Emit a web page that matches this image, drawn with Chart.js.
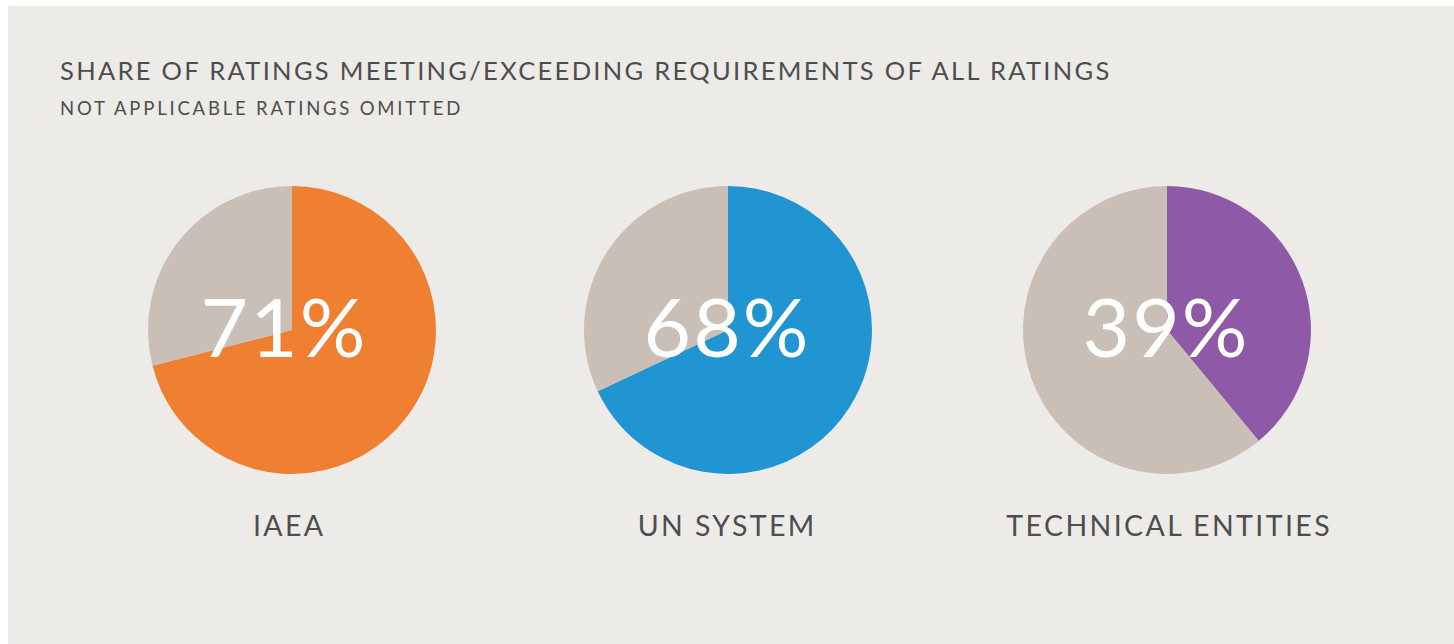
<!DOCTYPE html>
<html lang="en">
<head>
    <meta charset="UTF-8">
    <title>Share of ratings</title>
    <script src="https://cdn.jsdelivr.net/npm/chart.js"></script>
    <style>
        body { margin: 0; background: #ffffff; font-family: Lato, sans-serif; color: #4d4d4f; }
        .panel { position: absolute; left: 8px; top: 6px; width: 1446px; height: 638px; background: #edebe7; }
        .title { position: absolute; left: 60px; top: 58px; font-size: 25.5px; line-height: 25px; letter-spacing: 2.3px; white-space: nowrap; }
        .subtitle { position: absolute; left: 60px; top: 99px; font-size: 18.5px; line-height: 18px; letter-spacing: 2.8px; white-space: nowrap; }
        .pie { position: absolute; width: 420px; height: 300px; }
        .label { position: absolute; width: 420px; text-align: center; top: 511px; font-size: 28.5px; line-height: 28px; letter-spacing: 2.4px; padding-left: 2.4px; box-sizing: border-box; }
    </style>
</head>
<body>
    <div class="panel"></div>
    <div class="title">SHARE OF RATINGS MEETING/EXCEEDING REQUIREMENTS OF ALL RATINGS</div>
    <div class="subtitle">NOT APPLICABLE RATINGS OMITTED</div>

    <div class="pie" style="left:82px; top:180px;"><canvas id="pie0"></canvas></div>
    <div class="pie" style="left:518px; top:180px;"><canvas id="pie1"></canvas></div>
    <div class="pie" style="left:957px; top:180px;"><canvas id="pie2"></canvas></div>

    <div class="label" id="label0" style="left:78px;"></div>
    <div class="label" id="label1" style="left:516px;"></div>
    <div class="label" id="label2" style="left:958px;"></div>

    <script>
        const groups = ['IAEA', 'UN SYSTEM', 'TECHNICAL ENTITIES'];
        const meetingShare = [71, 68, 39];
        const groupColors = ['#ef8032', '#2194d2', '#8e59a6'];
        const restColor = '#c9bfb7';

        // big white percentage in the middle of each pie
        const centerText = {
            id: 'centerText',
            afterDraw(chart) {
                const arc = chart.getDatasetMeta(0).data[0];
                const value = chart.data.datasets[0].data[0];
                const ctx = chart.ctx;
                ctx.save();
                ctx.font = '82px Lato';
                ctx.letterSpacing = '2px';
                ctx.fillStyle = '#ffffff';
                ctx.textAlign = 'center';
                ctx.textBaseline = 'alphabetic';
                // the 1 is narrow in the original face, nudge that one left
                const dx = String(value).includes('1') ? -8 : -1;
                ctx.fillText(value + '%', arc.x + dx, arc.y + 27);
                ctx.restore();
            }
        };

        groups.forEach((name, i) => {
            document.getElementById('label' + i).textContent = name;
            new Chart(document.getElementById('pie' + i), {
                type: 'pie',
                data: {
                    labels: ['Meeting/exceeding', 'Other'],
                    datasets: [{
                        data: [meetingShare[i], 100 - meetingShare[i]],
                        backgroundColor: [groupColors[i], restColor],
                        borderWidth: 0,
                        hoverOffset: 0
                    }]
                },
                options: {
                    responsive: true,
                    maintainAspectRatio: false,
                    animation: false,
                    radius: 144,
                    layout: { padding: 0 },
                    plugins: {
                        legend: { display: false },
                        tooltip: { enabled: false }
                    }
                },
                plugins: [centerText]
            });
        });
    </script>
</body>
</html>
